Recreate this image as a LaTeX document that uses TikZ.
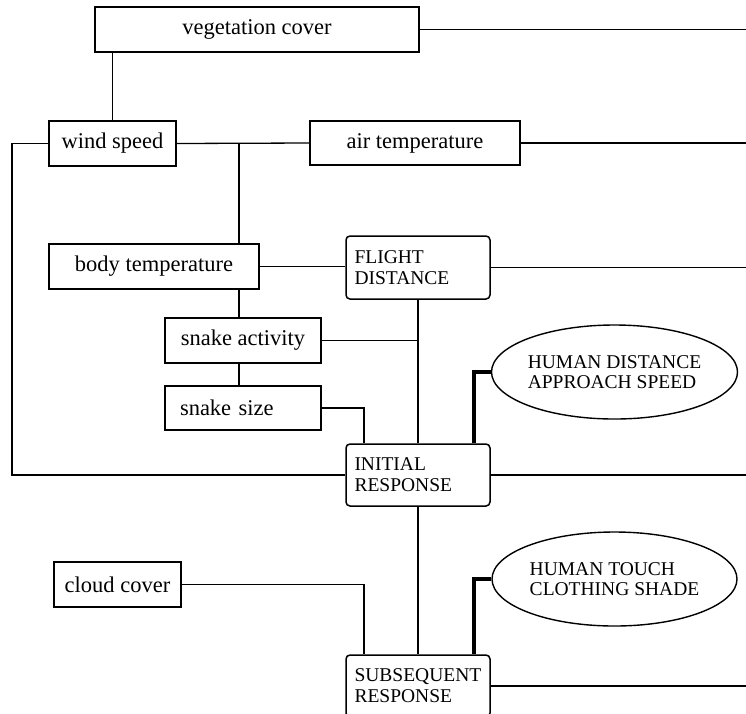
\documentclass[tikz,border=0pt]{standalone}
\usepackage{fontspec}
\setmainfont{Liberation Serif}
\usetikzlibrary{shapes.geometric,calc}

\begin{document}
\begin{tikzpicture}[x=1pt,y=-1pt,
		box/.style={draw,line width=1.5pt,inner sep=0pt,minimum height=45pt,
			font=\fontsize{22.5}{27}\selectfont},
		resp/.style={draw,line width=1.5pt,rounded corners=4pt,inner sep=0pt,
			minimum width=144pt,minimum height=62pt,align=left,text width=127pt,
			font=\fontsize{19.5}{21}\selectfont},
		oval/.style={draw,ellipse,line width=1.4pt,inner sep=0pt,minimum width=246pt,
			minimum height=94pt,align=left,font=\fontsize{19.5}{19.5}\selectfont},
		link/.style={line width=1.3pt},
		heavy/.style={line width=3.2pt}]

			\useasboundingbox (0,0) rectangle (746,713);
			\coordinate (L) at (12,0);
			\coordinate (R) at (746,0);
			\coordinate (jx) at (364,0);
			\coordinate (jt) at (474,0);

			\node [box,minimum width=324pt] (veg) at (257,29.5) {vegetation cover};
			\node [box,minimum width=127pt] (wind) at (112.5,143.5) {wind speed};
			\node [box,minimum width=210pt,minimum height=44pt] (air) at (415,143) {air temperature};
			\node [box,minimum width=210pt] (body) at (154,266.5) {body temperature};
			\node [box,minimum width=156pt] (act) at (243,340.5) {snake activity};
			\node [box,minimum width=156pt,minimum height=44pt,inner xsep=15pt,
				text width=126pt,align=left] (size) at (243,408) {snake size};
			\node [box,minimum width=127pt] (cloud) at (117.5,584.5) {cloud cover};

			\node [resp,minimum height=63pt] (flight) at (418,267.5) {FLIGHT\\DISTANCE};
			\node [resp] (init) at (418,475) {INITIAL\\RESPONSE};
			\node [resp] (subs) at (418,686) {SUBSEQUENT\\RESPONSE};

			\node [oval] (hdist) at (614.5,372) {HUMAN DISTANCE\\APPROACH SPEED};
			\node [oval,minimum width=245pt] (htouch) at (614.5,579) {HUMAN TOUCH\\CLOTHING SHADE};

			\path (wind.east) -- (air.west) coordinate [pos=0.47] (ja);

			\draw [link] (veg.east) -- (veg.east -| R);
			\draw [link] (wind.north) -- (wind.north |- veg.south);
			\draw [link] (wind.west) -- (wind.west -| L) |- (init.west);
			\draw [link] (wind.east) -- (air.west);
			\draw [link] (air.east) -- (air.east -| R);
			\draw [link] (ja) -- (ja |- body.north);
			\draw [link] (body.east) -- (body.east -| flight.west);
			\draw [link] (flight.east) -- (flight.east -| R);
			\draw [link] (ja |- body.south) -- (ja |- act.north);
			\draw [link] (ja |- act.south) -- (ja |- size.north);
			\draw [link] (flight.south) -- (init.north);
			\draw [link] (act.east) -- (act.east -| flight.south);
			\draw [link] (size.east) -| (jx |- init.north);
			\draw [heavy] (hdist.west) -| (jt |- init.north);
			\draw [link] (init.east) -- (init.east -| R);
			\draw [link] (init.south) -- (subs.north);
			\draw [link] (cloud.east) -| (jx |- subs.north);
			\draw [heavy] (htouch.west) -| (jt |- subs.north);
			\draw [link] (subs.east) -- (subs.east -| R);
		\end{tikzpicture}
\end{document}
